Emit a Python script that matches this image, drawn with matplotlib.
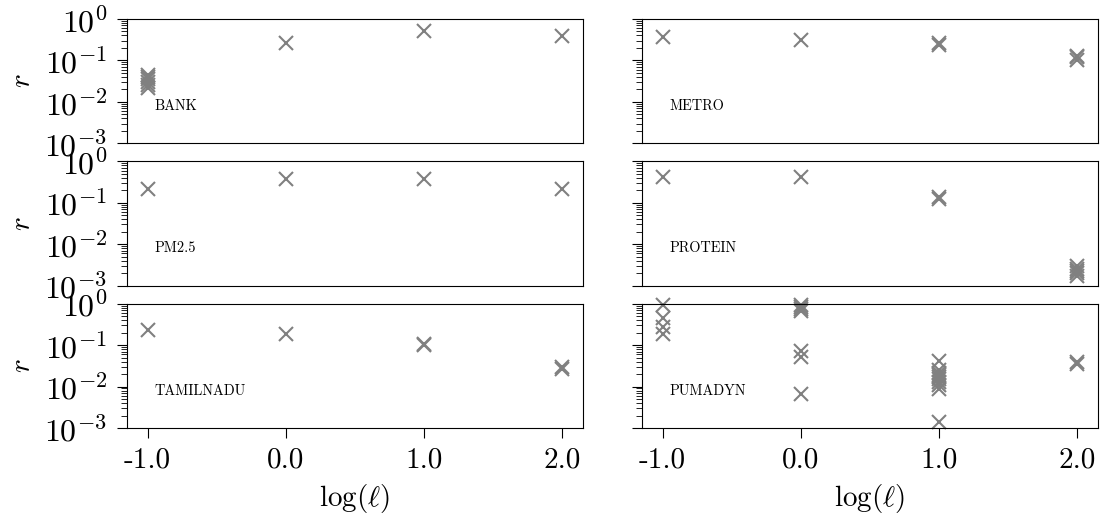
import matplotlib
matplotlib.use('Agg')
import matplotlib.pyplot as plt
import numpy as np

# Computer Modern look
plt.rcParams['font.family'] = 'serif'
plt.rcParams['font.serif'] = ['cmr10']
plt.rcParams['mathtext.fontset'] = 'cm'
plt.rcParams['axes.unicode_minus'] = False
plt.rcParams['axes.formatter.use_mathtext'] = True
plt.rcParams['font.size'] = 21

# log(l) values and r values per dataset (several runs per l)
bank_x = [-1, -1, -1, -1, -1, -1, 0, 1, 2]
bank_r = [0.045, 0.04, 0.035, 0.03, 0.026, 0.022, 0.27, 0.52, 0.39]

metro_x = [-1, 0, 1, 1, 2, 2, 2]
metro_r = [0.36, 0.32, 0.24, 0.26, 0.105, 0.118, 0.13]

pm25_x = [-1, 0, 1, 2]
pm25_r = [0.21, 0.37, 0.38, 0.21]

protein_x = [-1, 0, 1, 1, 2, 2, 2, 2, 2]
protein_r = [0.41, 0.41, 0.12, 0.135, 0.0029, 0.0025, 0.0022, 0.002, 0.0017]

tamil_x = [-1, 0, 1, 1, 2, 2]
tamil_r = [0.23, 0.19, 0.098, 0.108, 0.026, 0.029]

pumadyn_x = [-1, -1, -1, -1,
             0, 0, 0, 0, 0, 0, 0,
             1, 1, 1, 1, 1, 1, 1, 1, 1, 1,
             2, 2]
pumadyn_r = [0.93, 0.45, 0.28, 0.19,
             0.95, 0.85, 0.75, 0.65, 0.072, 0.052, 0.0066,
             0.042, 0.025, 0.021, 0.019, 0.017, 0.015, 0.013, 0.011, 0.0088, 0.0014,
             0.035, 0.039]

panels = [('BANK', bank_x, bank_r), ('METRO', metro_x, metro_r),
          ('PM2.5', pm25_x, pm25_r), ('PROTEIN', protein_x, protein_r),
          ('TAMILNADU', tamil_x, tamil_r), ('PUMADYN', pumadyn_x, pumadyn_r)]

xticks = [-1, 0, 1, 2]
xticklabels = ['-1.0', '0.0', '1.0', '2.0']

fig, axes = plt.subplots(3, 2, figsize=(11.02, 5.25), dpi=100)
fig.subplots_adjust(left=0.1152, right=0.9964, top=0.9638, bottom=0.1848,
                    wspace=0.129, hspace=0.145)

for ax, (name, xs, rs) in zip(axes.flat, panels):
    ax.plot(xs, rs, 'x', color='#808080', markersize=10, markeredgewidth=1.5,
            linestyle='none', clip_on=False)
    ax.set_yscale('log')
    ax.set_ylim(1e-3, 1e0)
    ax.set_xlim(-1.15, 2.15)
    ax.set_xticks(xticks)
    ax.text(0.06, 0.30, name, transform=ax.transAxes, fontsize=10.3,
            va='center', ha='left')
    ax.tick_params(which='both', direction='out')
    ax.tick_params(which='major', length=7, pad=7)
    ax.tick_params(which='minor', length=4)
    ax.tick_params(axis='y', which='major', labelsize=23, pad=7)

for ax in axes[:, 0]:
    ax.set_ylabel(r'$r$', labelpad=6)
for ax in axes[:, 1]:
    ax.set_yticklabels([])
for ax in axes[:2, :].flat:
    ax.tick_params(axis='x', which='both', bottom=False, labelbottom=False)
for ax in axes[2, :]:
    ax.set_xticklabels(xticklabels)
    ax.set_xlabel(r'$\log(\ell)$', labelpad=6)

fig.savefig('out.png', dpi=100)
